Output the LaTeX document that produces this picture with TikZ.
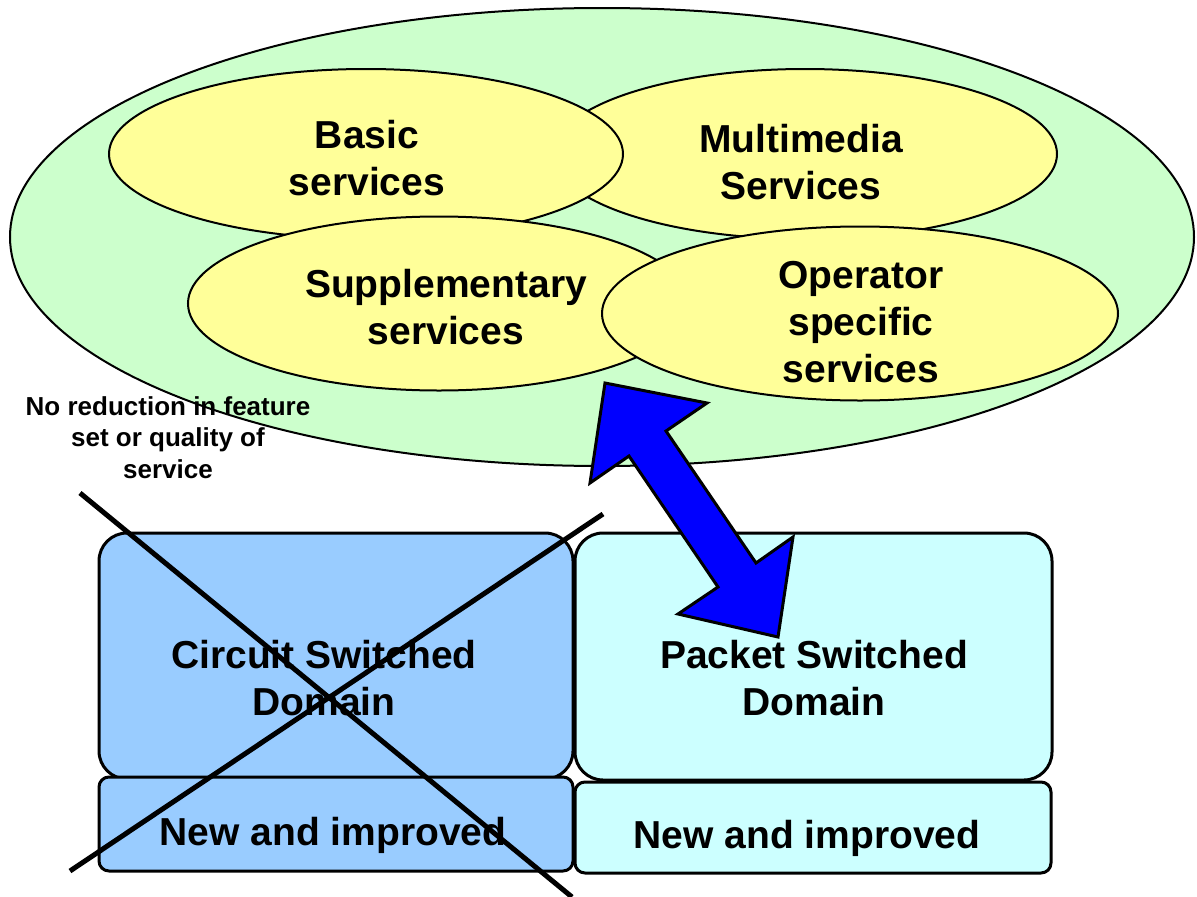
\documentclass[tikz,border=0pt]{standalone}
\usepackage{fontspec}
\setmainfont{Liberation Sans}
\usetikzlibrary{shapes.geometric}
\definecolor{outergreen}{HTML}{CCFFCC}
\definecolor{svcyellow}{HTML}{FFFF99}
\definecolor{csblue}{HTML}{99CCFF}
\definecolor{pscyan}{HTML}{CCFFFF}
\definecolor{arrowblue}{HTML}{0000FF}
\newcommand\bigtxt{\fontsize{39}{47}\selectfont\bfseries}
\newcommand\smalltxt{\fontsize{26}{31.5}\selectfont\bfseries}
\newcommand\lines[1]{\begin{tabular}[t]{@{}c@{}}#1\end{tabular}}
\begin{document}
\begin{tikzpicture}[x=1pt,y=-1pt,
  svc/.style={ellipse, draw=black, line width=2pt, fill=svcyellow, inner sep=0pt},
  lbl/.style={anchor=base, inner sep=0pt, font=\bigtxt},
  cbox/.style={draw=black, line width=3pt, fill=csblue, inner sep=0pt},
  pbox/.style={draw=black, line width=3pt, fill=pscyan, inner sep=0pt},
  crossline/.style={draw=black, line width=5pt},
  blockarrow/.style={draw=black, line width=3pt, fill=arrowblue, line join=miter}]
\useasboundingbox (0,0) rectangle (1197,897);
% outer ellipse
\node[ellipse, draw=black, line width=2pt, fill=outergreen, inner sep=0pt,
      minimum width=1184pt, minimum height=458pt] (outer) at (602,237) {};
% service ellipses
\node[svc, minimum width=504pt, minimum height=170pt] (multi) at (805,154) {};
\node[svc, minimum width=514pt, minimum height=170pt] (basic) at (366,154) {};
\node[svc, minimum width=502pt, minimum height=174pt] (supp) at (439,303.5) {};
\node[svc, minimum width=516pt, minimum height=174pt] (oper) at (860,313.5) {};
% service labels
\node[lbl] (tbasic) at (367,148) {\lines{Basic\\services}};
\node[lbl] (tmulti) at (801,152) {\lines{Multimedia\\Services}};
\node[lbl] (tsupp) at (446,297) {\lines{Supplementary\\services}};
\node[lbl] (toper) at (861,288) {\lines{Operator\\specific\\services}};
% note
\node[anchor=base, inner sep=0pt, font=\smalltxt] (note) at (168,415)
  {\lines{No reduction in feature\\set or quality of\\service}};
% domain boxes
\node[cbox, rounded corners=28pt, minimum width=474pt, minimum height=246pt] (cstop) at (336,656) {};
\node[cbox, rounded corners=10pt, minimum width=474pt, minimum height=94pt] (csbot) at (336,824) {};
\node[pbox, rounded corners=28pt, minimum width=477pt, minimum height=247pt] (pstop) at (813.5,656.5) {};
\node[pbox, rounded corners=10pt, minimum width=476pt, minimum height=91pt] (psbot) at (813,827.5) {};
\node[lbl] (tcs) at (324,668) {\lines{Circuit Switched\\Domain}};
\node[lbl] (tps) at (814,668) {\lines{Packet Switched\\Domain}};
\node[lbl] (tcsnew) at (333,845) {New and improved};
\node[lbl] (tpsnew) at (807,848) {New and improved};
% double block arrow
\coordinate (a1) at (605,383);
\coordinate (a2) at (707,403);
\coordinate (a3) at (666,431);
\coordinate (a4) at (756,563);
\coordinate (a5) at (793,537);
\coordinate (a6) at (778,637);
\coordinate (a7) at (678,614);
\coordinate (a8) at (718,587);
\coordinate (a9) at (629,456);
\coordinate (a10) at (590,483);
\path[blockarrow] (a1) -- (a2) -- (a3) -- (a4) -- (a5) -- (a6) -- (a7) -- (a8) -- (a9) -- (a10) -- cycle;
% cross
\coordinate (x1s) at (80,493);
\coordinate (x1e) at (572,897);
\coordinate (x2s) at (70,871);
\coordinate (x2e) at (603,514);
\draw[crossline] (x1s) -- (x1e);
\draw[crossline] (x2s) -- (x2e);
\end{tikzpicture}
\end{document}
